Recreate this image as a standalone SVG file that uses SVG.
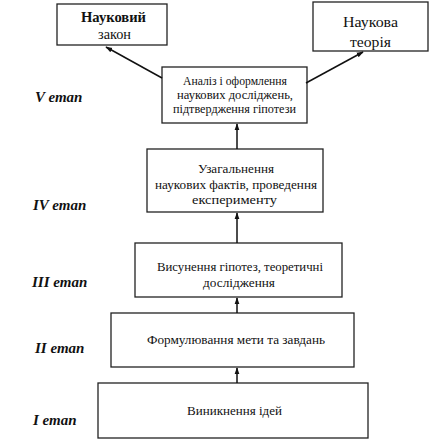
<svg xmlns="http://www.w3.org/2000/svg" width="432" height="441" viewBox="0 0 432 441">
<defs>
<marker id="ah" viewBox="0 0 10 10" refX="9" refY="5" markerWidth="7" markerHeight="7" orient="auto" markerUnits="userSpaceOnUse">
<path d="M0,1.5 L10,5 L0,8.5 Z" fill="#111"/>
</marker>
</defs>
<rect width="432" height="441" fill="#fff"/>
<g fill="#fff" stroke="#222" stroke-width="1.3">
<rect id="law-box" x="57" y="4" width="110" height="41"/>
<rect id="theory-box" x="313" y="2" width="115" height="49"/>
<rect id="stage5-box" x="162" y="67" width="145" height="56"/>
<rect id="stage4-box" x="147" y="149" width="176" height="63"/>
<rect id="stage3-box" x="135" y="243" width="207" height="54"/>
<rect id="stage2-box" x="111" y="313" width="243" height="54"/>
<rect id="stage1-box" x="98" y="383" width="270" height="55"/>
</g>
<g fill="#111" text-anchor="middle" font-size="13">
<g id="law">
<text font-family="Liberation Serif" x="113.5" y="22" font-size="14" font-weight="bold" textLength="65" lengthAdjust="spacingAndGlyphs">Науковий</text>
<text font-family="Liberation Serif" x="114.5" y="39" font-size="14" textLength="33" lengthAdjust="spacingAndGlyphs">закон</text></g>
<g id="theory">
<text font-family="Liberation Serif" x="370.5" y="27" font-size="15" textLength="55" lengthAdjust="spacingAndGlyphs">Наукова</text>
<text font-family="Liberation Serif" x="370.5" y="47" font-size="15" textLength="41" lengthAdjust="spacingAndGlyphs">теорія</text></g>
<g id="stage5">
<text font-family="Liberation Serif" x="235" y="85" font-size="12.5" textLength="104" lengthAdjust="spacingAndGlyphs">Аналіз і оформлення</text>
<text font-family="Liberation Serif" x="235" y="99" font-size="12.5" textLength="116" lengthAdjust="spacingAndGlyphs">наукових досліджень,</text>
<text font-family="Liberation Serif" x="234.5" y="113" font-size="11.5" textLength="123" lengthAdjust="spacingAndGlyphs">підтвердження гіпотези</text></g>
<g id="stage4">
<text font-family="Liberation Serif" x="236" y="173" textLength="76" lengthAdjust="spacingAndGlyphs">Узагальнення</text>
<text font-family="Liberation Serif" x="236" y="189" textLength="162" lengthAdjust="spacingAndGlyphs">наукових фактів, проведення</text>
<text font-family="Liberation Serif" x="234.5" y="204" textLength="85" lengthAdjust="spacingAndGlyphs">експерименту</text></g>
<g id="stage3">
<text font-family="Liberation Serif" x="240" y="271" textLength="166" lengthAdjust="spacingAndGlyphs">Висунення гіпотез, теоретичні</text>
<text font-family="Liberation Serif" x="239" y="287" textLength="72" lengthAdjust="spacingAndGlyphs">дослідження</text></g>
<g id="stage2">
<text font-family="Liberation Serif" x="236" y="344" textLength="178" lengthAdjust="spacingAndGlyphs">Формулювання мети та завдань</text></g>
<g id="stage1">
<text font-family="Liberation Serif" x="234.5" y="415" textLength="95" lengthAdjust="spacingAndGlyphs">Виникнення ідей</text></g>
</g>
<g id="labels" fill="#111" font-size="15" font-weight="bold" font-style="italic">
<text font-family="Liberation Serif" x="35" y="102">V етап</text>
<text font-family="Liberation Serif" x="33" y="210">IV етап</text>
<text font-family="Liberation Serif" x="32" y="287">III етап</text>
<text font-family="Liberation Serif" x="35" y="353">II етап</text>
<text font-family="Liberation Serif" x="33" y="425">I етап</text>
</g>
<g id="connectors" stroke="#111" stroke-width="1.5" fill="none" marker-end="url(#ah)">
<line x1="162" y1="78" x2="106" y2="47"/>
<line x1="306" y1="83" x2="363" y2="52"/>
<line x1="237" y1="149" x2="237" y2="124"/>
<line x1="237" y1="243" x2="237" y2="213"/>
<line x1="237" y1="313" x2="237" y2="298"/>
<line x1="237" y1="383" x2="237" y2="368"/>
</g>
</svg>
